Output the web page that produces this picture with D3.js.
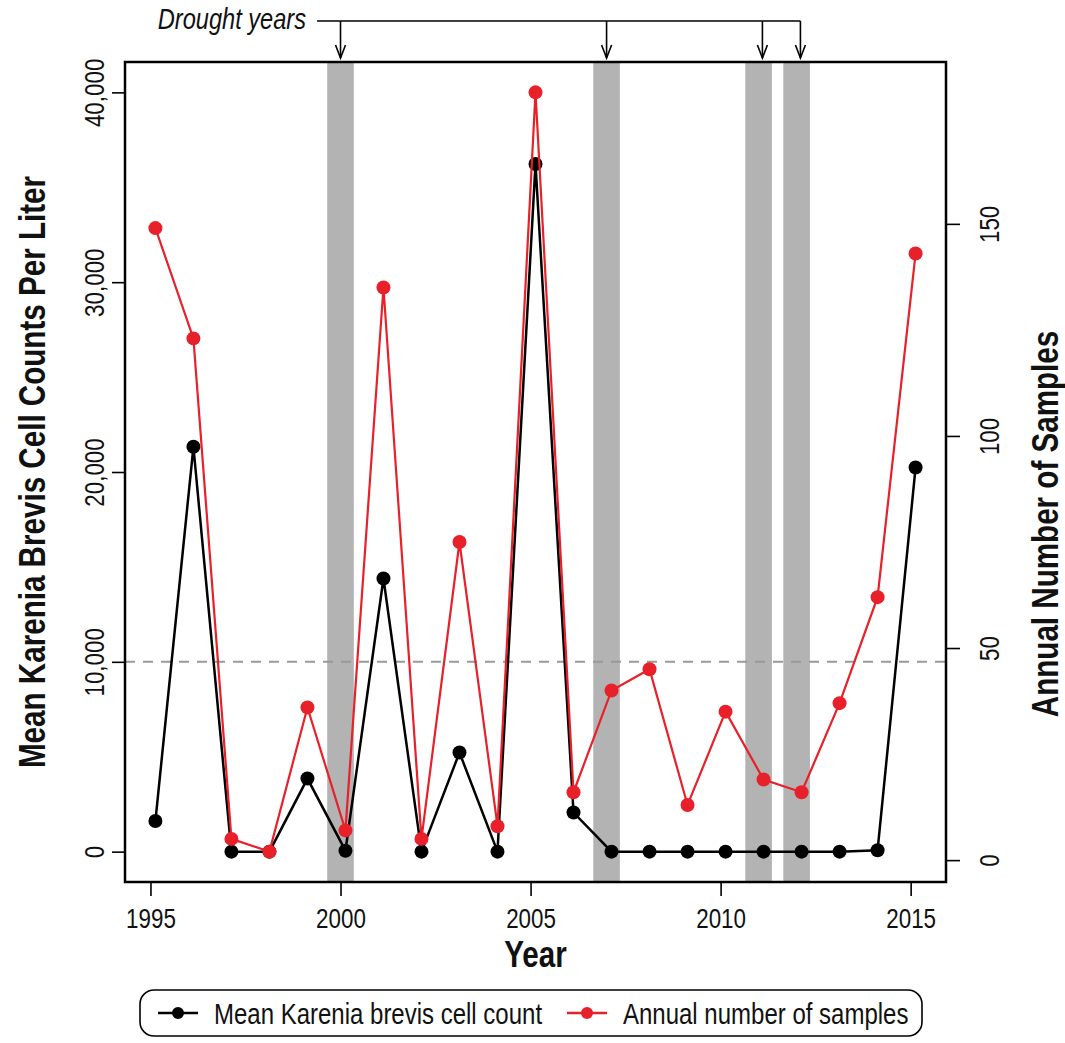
<!DOCTYPE html>
<html>
<head>
<meta charset="utf-8">
<script src="https://cdn.jsdelivr.net/npm/d3@7"></script>
<style>
  body { margin: 0; background: #fff; }
  svg { font-family: "Liberation Sans", Arial, sans-serif; }
</style>
</head>
<body>
<div id="chart"></div>
<script>
// data
const years = [1995, 1996, 1997, 1998, 1999, 2000, 2001, 2002, 2003, 2004, 2005,
               2006, 2007, 2008, 2009, 2010, 2011, 2012, 2013, 2014, 2015];
const yearOffset = 0.13;   // points sit a little after the year mark
const cellCounts = [1610, 21330, 0, 0, 3850, 50, 14390, 0, 5220, 0, 36230,
                    2060, 0, 0, 0, 0, 0, 0, 0, 70, 20240];
const sampleCounts = [149, 123, 5, 2, 36, 7, 135, 5, 75, 8, 181,
                      16, 40, 45, 13, 35, 19, 16, 37, 62, 143];
const droughtYears = [2000, 2007, 2011, 2012];
const droughtArrows = [2000, 2007, 2011.1, 2012.1];
const xTicks = [1995, 2000, 2005, 2010, 2015];
const yLeftTicks = [0, 10000, 20000, 30000, 40000];
const yRightTicks = [0, 50, 100, 150];
const threshold = 10000;
const legendLabels = ["Mean Karenia brevis cell count", "Annual number of samples"];

const W = 1065, H = 1043;
const box = {left: 125, right: 946, top: 62, bottom: 882};
const SX = 0.8;   // narrow glyphs like the original
const red = "#e8202a";

// R style axis limits: 4% padding on each side
function pad(lo, hi) { const d = (hi - lo) * 0.04; return [lo - d, hi + d]; }

const xs = years.map(y => y + yearOffset);
const x = d3.scaleLinear().domain(pad(d3.min(xs), d3.max(xs))).range([box.left, box.right]);
const yL = d3.scaleLinear().domain(pad(0, 40000)).range([box.bottom, box.top]);
const yR = d3.scaleLinear().domain(pad(d3.min(sampleCounts), d3.max(sampleCounts))).range([box.bottom, box.top]);

const svg = d3.select("#chart").append("svg")
    .attr("width", W).attr("height", H);
svg.append("rect").attr("width", W).attr("height", H).attr("fill", "#fff");

function label(parent, px, py, rot, txt, size, opts = {}) {
  const g = parent.append("g")
      .attr("transform", `translate(${px},${py}) rotate(${rot}) scale(${SX},1)`);
  return g.append("text")
      .attr("text-anchor", opts.anchor || "middle")
      .attr("font-size", size)
      .attr("font-weight", opts.weight || "normal")
      .attr("font-style", opts.style || "normal")
      .attr("fill", "#111")
      .text(txt);
}

// drought bands
svg.selectAll(".band")
  .data(droughtYears)
  .join("rect")
    .attr("class", "band")
    .attr("x", d => x(d - 0.35))
    .attr("width", d => x(d + 0.35) - x(d - 0.35))
    .attr("y", box.top)
    .attr("height", box.bottom - box.top)
    .attr("fill", "#b3b3b3");

// 10,000 cells threshold
svg.append("line")
    .attr("x1", box.left).attr("x2", box.right)
    .attr("y1", yL(threshold)).attr("y2", yL(threshold))
    .attr("stroke", "#999").attr("stroke-width", 2)
    .attr("stroke-dasharray", "10,8");

// black series
const lineL = d3.line().x((d, i) => x(xs[i])).y(d => yL(d));
svg.append("path").datum(cellCounts)
    .attr("d", lineL).attr("fill", "none")
    .attr("stroke", "#000").attr("stroke-width", 2.5);
svg.selectAll(".ptL").data(cellCounts).join("circle")
    .attr("class", "ptL")
    .attr("cx", (d, i) => x(xs[i])).attr("cy", d => yL(d))
    .attr("r", 7).attr("fill", "#000");

// red series
const lineR = d3.line().x((d, i) => x(xs[i])).y(d => yR(d));
svg.append("path").datum(sampleCounts)
    .attr("d", lineR).attr("fill", "none")
    .attr("stroke", red).attr("stroke-width", 2.2);
svg.selectAll(".ptR").data(sampleCounts).join("circle")
    .attr("class", "ptR")
    .attr("cx", (d, i) => x(xs[i])).attr("cy", d => yR(d))
    .attr("r", 7).attr("fill", red);

// plot box
svg.append("rect")
    .attr("x", box.left).attr("y", box.top)
    .attr("width", box.right - box.left).attr("height", box.bottom - box.top)
    .attr("fill", "none").attr("stroke", "#000").attr("stroke-width", 2.5);

// axes
const tickFont = 28;
const gx = svg.append("g")
    .attr("transform", `translate(0,${box.bottom})`)
    .call(d3.axisBottom(x).tickValues(xTicks).tickSize(14).tickFormat(d3.format("d")));
gx.selectAll(".tick text")
    .attr("y", 0).attr("dy", null)
    .attr("transform", `translate(0,46) scale(${SX},1)`);

const gl = svg.append("g")
    .attr("transform", `translate(${box.left},0)`)
    .call(d3.axisLeft(yL).tickValues(yLeftTicks).tickSize(13).tickFormat(d3.format(",")));
gl.selectAll(".tick text")
    .attr("x", 0).attr("dy", null).attr("text-anchor", "middle")
    .attr("transform", `translate(-21,0) rotate(-90) scale(${SX},1)`);

const gr = svg.append("g")
    .attr("transform", `translate(${box.right},0)`)
    .call(d3.axisRight(yR).tickValues(yRightTicks).tickSize(14));
gr.selectAll(".tick text")
    .attr("x", 0).attr("dy", null).attr("text-anchor", "middle")
    .attr("transform", `translate(53,0) rotate(-90) scale(${SX},1)`);

[gx, gl, gr].forEach(g => {
  g.select(".domain").remove();
  g.selectAll(".tick line").attr("stroke", "#000").attr("stroke-width", 1.6);
  g.selectAll(".tick text")
      .attr("font-size", tickFont)
      .attr("font-family", "Liberation Sans, Arial, sans-serif")
      .attr("fill", "#111");
});

// axis titles
label(svg, (box.left + box.right) / 2, 967, 0, "Year", 37, {weight: "bold"});
label(svg, 45, (box.top + box.bottom) / 2, -90,
      "Mean Karenia Brevis Cell Counts Per Liter", 37, {weight: "bold"});
label(svg, 1058, 524, -90, "Annual Number of Samples", 37, {weight: "bold"});

// drought annotation
const annY = 21, tipY = 58;
label(svg, 306, 29, 0, "Drought years", 29.5, {anchor: "end", style: "italic"});
svg.append("line")
    .attr("x1", 317).attr("x2", x(d3.max(droughtArrows)))
    .attr("y1", annY).attr("y2", annY)
    .attr("stroke", "#000").attr("stroke-width", 1.6);
const arrows = svg.selectAll(".arrow").data(droughtArrows).join("g")
    .attr("class", "arrow")
    .attr("transform", d => `translate(${x(d)},0)`);
arrows.append("line")
    .attr("y1", annY).attr("y2", tipY)
    .attr("stroke", "#000").attr("stroke-width", 1.6);
arrows.append("path")
    .attr("d", `M-5,${tipY - 13}L0,${tipY}L5,${tipY - 13}`)
    .attr("fill", "none").attr("stroke", "#000").attr("stroke-width", 1.6);

// legend
const leg = svg.append("g");
leg.append("rect")
    .attr("x", 140).attr("y", 990).attr("width", 782).attr("height", 46)
    .attr("rx", 14).attr("fill", "#fff")
    .attr("stroke", "#000").attr("stroke-width", 1.6);
const legItems = [
  {label: legendLabels[0], color: "#000", x0: 158},
  {label: legendLabels[1], color: red, x0: 567}
];
legItems.forEach(it => {
  leg.append("line")
      .attr("x1", it.x0).attr("x2", it.x0 + 40)
      .attr("y1", 1013).attr("y2", 1013)
      .attr("stroke", it.color).attr("stroke-width", 2.5);
  leg.append("circle")
      .attr("cx", it.x0 + 20).attr("cy", 1013).attr("r", 6)
      .attr("fill", it.color);
  label(leg, it.x0 + 56, 1024, 0, it.label, 30, {anchor: "start"});
});
</script>
</body>
</html>
